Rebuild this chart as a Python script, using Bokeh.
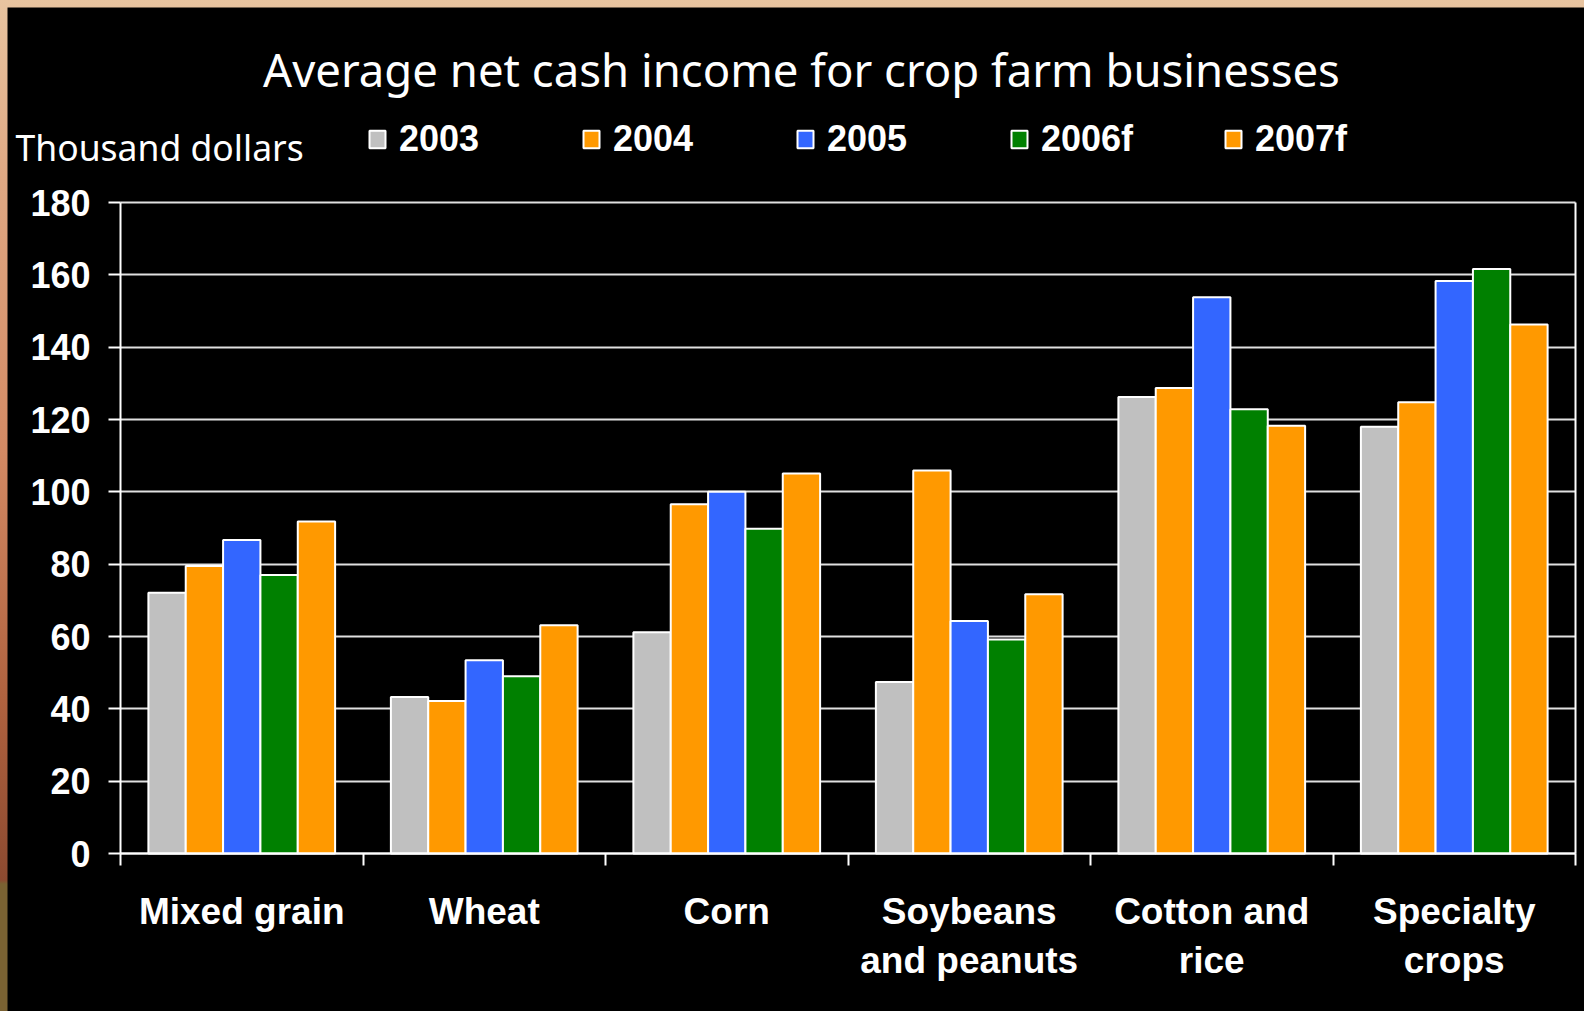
from bokeh.plotting import figure
from bokeh.models import (Range1d, LinearAxis, FixedTicker, Grid,
                          Legend, LegendItem, Label, ColumnDataSource)
from bokeh.transform import dodge
from bokeh.layouts import column
from bokeh.embed import file_html
from bokeh.resources import INLINE

# ---- data ----
categories = ["Mixed grain", "Wheat", "Corn", "Soybeans and peanuts", "Cotton and rice", "Specialty crops"]
label_line1 = ["Mixed grain", "Wheat", "Corn", "Soybeans", "Cotton and", "Specialty"]
label_line2 = ["", "", "", "and peanuts", "rice", "crops"]
years = ["2003", "2004", "2005", "2006f", "2007f"]
v2003 = [72.1, 43.3, 61.2, 47.4, 126.2, 118.0]
v2004 = [79.5, 42.2, 96.6, 105.9, 128.7, 124.8]
v2005 = [86.7, 53.4, 100.0, 64.3, 153.8, 158.3]
v2006f = [77.0, 49.0, 89.8, 59.2, 122.8, 161.6]
v2007f = [91.8, 63.1, 105.1, 71.7, 118.3, 146.3]
colors = ["#C0C0C0", "#FF9900", "#3366FF", "#008000", "#FF9900"]
y_ticks = [0, 20, 40, 60, 80, 100, 120, 140, 160, 180]
y_max = 180
title_text = "Average net cash income for crop farm businesses"
unit_text = "Thousand dollars"

n = len(categories)
pos = [i + 0.5 for i in range(n)]          # category centres on the x scale
series = [v2003, v2004, v2005, v2006f, v2007f]
src = ColumnDataSource(dict(pos=pos, cat=categories, **{y: s for y, s in zip(years, series)}))

# ---- layout: the frame covers the whole picture, the plot area sits inside it ----
frame_w, frame_h = 1577, 1004
pad_left, pad_right = 113, 9          # px left / right of the category block
pad_top, pad_bottom = 195, 158        # px above the 180 line / below the 0 line
plot_h = 651                          # px used by 0..180
unit_px = (frame_w - pad_left - pad_right) / n
y_px = plot_h / y_max
p0 = figure(x_range=Range1d(-pad_left / unit_px, n + pad_right / unit_px),
            y_range=Range1d(-pad_bottom / y_px, y_max + pad_top / y_px),
            frame_width=frame_w, frame_height=frame_h,
            min_border_left=0, min_border_right=0, min_border_top=0, min_border_bottom=0,
            output_backend="svg", toolbar_location=None,
            background_fill_color="black", border_fill_color="black",
            x_axis_location=None, outline_line_color=None)

bar_w = 0.154
offsets = [-2 * bar_w, -bar_w, 0, bar_w, 2 * bar_w]
renderers = []
for y, off, c in zip(years, offsets, colors):
    r = p0.vbar(x=dodge("pos", off), top=y, width=bar_w, source=src,
                fill_color=c, line_color="white", line_width=2)
    renderers.append(r)

# grid lines limited to the category block
p0.xgrid.grid_line_color = None
if "cross_bounds" in Grid.properties():
    g = p0.ygrid[0]
    g.ticker = FixedTicker(ticks=y_ticks)
    g.cross_bounds = (0, n)
    g.grid_line_color = "#E0E0E0"
    g.grid_line_width = 2
else:
    p0.ygrid.grid_line_color = None
    gsrc = ColumnDataSource(dict(y=y_ticks, x0=[0] * len(y_ticks), x1=[n] * len(y_ticks)))
    p0.segment(x0="x0", x1="x1", y0="y", y1="y", source=gsrc, line_color="#E0E0E0",
               line_width=2, level="underlay")

# y axis at the left edge of the category block
yax = p0.yaxis[0]
yax.fixed_location = 0
yax.bounds = (0, y_max)
yax.ticker = FixedTicker(ticks=y_ticks)
yax.axis_line_color = "white"
yax.axis_line_width = 2
yax.major_tick_line_color = "white"
yax.major_tick_line_width = 2
yax.major_tick_out = 12
yax.major_tick_in = 0
yax.minor_tick_line_color = None
yax.major_label_text_font = "Liberation Sans"
yax.major_label_text_font_style = "bold"
yax.major_label_text_font_size = "36px"
yax.major_label_text_color = "white"
yax.major_label_standoff = 18

# right border of the plot area
right_ax = LinearAxis(fixed_location=n, bounds=(0, y_max), ticker=FixedTicker(ticks=[]),
                      axis_line_color="white", axis_line_width=2,
                      major_tick_line_color=None, minor_tick_line_color=None,
                      major_label_text_alpha=0, major_label_text_font_size="1px")
p0.add_layout(right_ax, "right")

# x axes on the zero line: boundary ticks + two lines of category labels
tick_axis = LinearAxis(fixed_location=0, ticker=FixedTicker(ticks=list(range(n + 1))), bounds=(0, n),
                       major_tick_out=12, major_tick_in=0, minor_tick_line_color=None,
                       axis_line_color="white", axis_line_width=2,
                       major_tick_line_color="white", major_tick_line_width=2,
                       major_label_text_font_size="1px", major_label_text_alpha=0,
                       major_label_standoff=0)
label_style = dict(fixed_location=0, major_tick_line_color=None, minor_tick_line_color=None,
                   axis_line_color=None, major_tick_out=0, major_tick_in=0,
                   major_label_text_font="Liberation Sans", major_label_text_font_style="bold",
                   major_label_text_font_size="37px", major_label_text_color="white")
line2_pos = [x for x, t in zip(pos, label_line2) if t]
cat_axis1 = LinearAxis(ticker=FixedTicker(ticks=pos),
                       major_label_overrides={x: t for x, t in zip(pos, label_line1)},
                       major_label_standoff=37, **label_style)
cat_axis2 = LinearAxis(ticker=FixedTicker(ticks=line2_pos),
                       major_label_overrides={x: t for x, t in zip(pos, label_line2) if t},
                       major_label_standoff=86, **label_style)
p0.add_layout(tick_axis, "below")
p0.add_layout(cat_axis1, "below")
p0.add_layout(cat_axis2, "below")

# title, unit text and legend above the 180 line (screen y measured from the frame bottom)
p0.add_layout(Label(x=794, y=943, x_units="screen", y_units="screen", text=title_text,
                    text_align="center", text_baseline="alphabetic", text_font="Noto Sans",
                    text_font_size="45.5px", text_color="white"))
p0.add_layout(Label(x=8, y=865, x_units="screen", y_units="screen", text=unit_text,
                    text_align="left", text_baseline="alphabetic", text_font="Noto Sans",
                    text_font_size="35.5px", text_color="white"))

legend = Legend(items=[LegendItem(label=y, renderers=[r]) for y, r in zip(years, renderers)],
                location=(360, 851), orientation="horizontal",
                glyph_width=20, glyph_height=22, label_standoff=12, label_width=170, spacing=12,
                padding=0, margin=0, background_fill_alpha=0, border_line_color=None,
                label_text_font="Liberation Sans", label_text_font_style="bold",
                label_text_font_size="36px", label_text_color="white")
p0.add_layout(legend, "center")

p0.margin = (7, 0, 0, 7)
p = column(p0, styles={"background": "linear-gradient(to bottom, #e8c4a0 0px, #dfa883 180px, #d48a64 450px, #b0623f 700px, #8c4a30 880px, #7a6232 884px, #7a6232 1011px)"})

open("out.html", "w").write(file_html(p, INLINE))
